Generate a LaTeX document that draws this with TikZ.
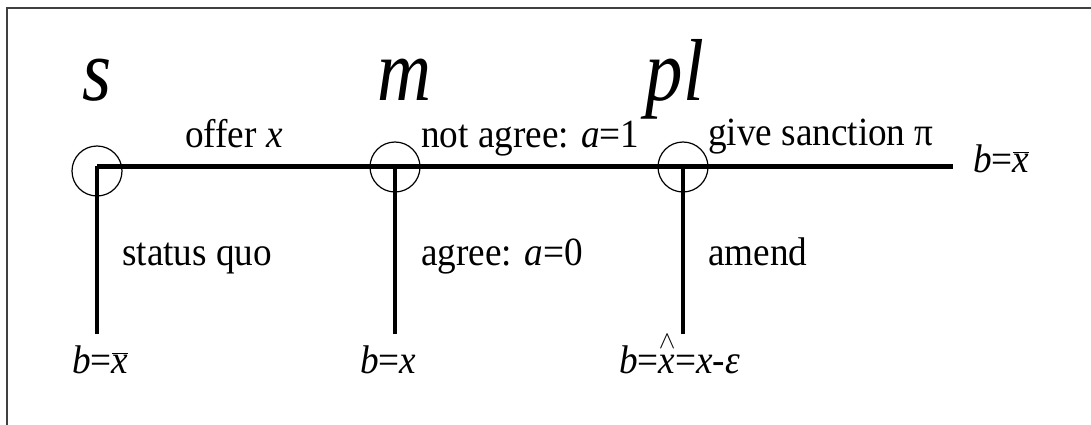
\documentclass[tikz,border=0pt]{standalone}
\usepackage{fontspec}
\setmainfont[FakeStretch=0.93]{Liberation Serif}
\newfontfamily\bigfont[FakeStretch=0.85]{Liberation Serif}
\newcommand\barx{$\overline{\hbox{\itshape x}}$}
\newcommand\hatx{\leavevmode\setbox0\hbox{\itshape x}\rlap{\hbox to \wd0{\hss\raisebox{25pt}{\fontsize{24}{24}\selectfont$\wedge$}\hss}}\box0}
\tikzset{
  big/.style={font=\bigfont\fontsize{88}{88}\selectfont\itshape, inner sep=0pt, anchor=base},
  lbl/.style={font=\fontsize{40}{40}\selectfont, inner sep=0pt, anchor=base west},
  info/.style={draw, circle, line width=1.2pt, minimum size=50pt, inner sep=0pt},
}
\begin{document}
\begin{tikzpicture}[x=1pt,y=-1pt]
\useasboundingbox (0,0) rectangle (1091,425);
\fill[white] (0,0) rectangle (1091,425);
\draw[black!75, line width=2pt] (7,425) -- (7,8) -- (1091,8);
% coordinates
\coordinate (s0) at (97,166);
\coordinate (m0) at (395,166);
\coordinate (p0) at (683,166);
\coordinate (e0) at (953,166);
\coordinate (sb) at (97,334);
\coordinate (mb) at (395,334);
\coordinate (pb) at (683,334);
% tree
\draw[line width=4pt] (sb) -- (s0);
\draw[line width=5pt] (s0) -- (e0);
\draw[line width=4pt] (m0) -- (mb);
\draw[line width=4pt] (p0) -- (pb);
% info circles
\node[info] (cs) at (97,171) {};
\node[info] (cm) at (395,167) {};
\node[info] (cp) at (683,167) {};
% player labels
\node[big] (ls) at (97,101) {s};
\node[big] (lm) at (405,101) {m};
\node[big] (lp) at (675,101) {pl};
% action labels
\node[lbl] (a1) at (185,147) {offer \textit{x}};
\node[lbl] (a2) at (421,147) {not agree: \textit{a}=1};
\node[lbl] (a3) at (708,146) {give sanction π};
\node[lbl] (a4) at (122,265) {status quo};
\node[lbl] (a5) at (421,265) {agree: \textit{a}=0};
\node[lbl] (a6) at (708,265) {amend};
% outcomes
\node[lbl] (o1) at (973,172) {\textit{b}=\barx};
\node[lbl] (o2) at (72,373) {\textit{b}=\barx};
\node[lbl] (o3) at (360,373) {\textit{b}=\textit{x}};
\node[lbl] (o4) at (619,373) {\textit{b}=\hatx=\textit{x}-\textit{ε}};
\end{tikzpicture}
\end{document}
